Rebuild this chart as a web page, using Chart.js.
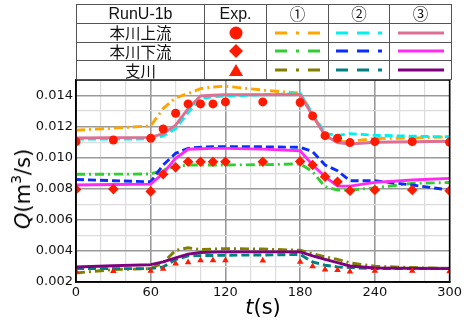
<!DOCTYPE html>
<html><head><meta charset="utf-8">
<script src="https://cdn.jsdelivr.net/npm/chart.js@4/dist/chart.umd.min.js"></script>
<style>
html,body{margin:0;padding:0;background:#fff;}
#wrap{position:relative;width:465px;height:320px;overflow:hidden;}
canvas{position:absolute;left:0;top:0;}
#legend{position:absolute;left:76px;top:4px;border-collapse:collapse;table-layout:fixed;background:#fff;}
#legend td{border:1px solid #555;height:17.8px;padding:0;text-align:center;vertical-align:middle;line-height:1;font-family:"Liberation Sans","Noto Sans CJK JP",sans-serif;font-size:16px;color:#111;}
#legend td.cjk{font-family:"Noto Sans CJK JP",sans-serif;font-size:15.5px;}
#legend svg{display:block;margin:0 auto;}
#ytitle{position:absolute;left:23px;top:189px;transform:translate(-50%,-50%) rotate(-90deg);font-family:"DejaVu Sans",sans-serif;font-size:21px;white-space:nowrap;color:#000;}
#xtitle{position:absolute;left:263px;top:307px;transform:translate(-50%,-50%);font-family:"DejaVu Sans",sans-serif;font-size:21px;white-space:nowrap;color:#000;}
sup{font-size:14px;vertical-align:9px;line-height:0;}
</style></head>
<body>
<div id="wrap">
<canvas id="c" width="465" height="320"></canvas>
<table id="legend">
<colgroup><col style="width:128px"><col style="width:62px"><col style="width:62px"><col style="width:61px"><col style="width:62px"></colgroup>
<tr><td>RunU-1b</td><td>Exp.</td><td class="cjk">①</td><td class="cjk">②</td><td class="cjk">③</td></tr>
<tr><td class="cjk">本川上流</td>
<td><svg width="16" height="16"><circle cx="8" cy="8" r="6.5" fill="#ff1a00"/></svg></td>
<td><svg width="46" height="6"><line x1="0" y1="3" x2="46" y2="3" stroke="#ffa500" stroke-width="3" stroke-dasharray="12 9 3 9"/></svg></td>
<td><svg width="46" height="6"><line x1="0" y1="3" x2="46" y2="3" stroke="#00f0f0" stroke-width="3" stroke-dasharray="12 9"/></svg></td>
<td><svg width="46" height="6"><line x1="0" y1="3" x2="46" y2="3" stroke="#db7093" stroke-width="3"/></svg></td></tr>
<tr><td class="cjk">本川下流</td>
<td><svg width="16" height="16"><polygon points="8,1 15,8 8,15 1,8" fill="#ff1a00"/></svg></td>
<td><svg width="46" height="6"><line x1="0" y1="3" x2="46" y2="3" stroke="#32cd32" stroke-width="3" stroke-dasharray="12 9 3 9"/></svg></td>
<td><svg width="46" height="6"><line x1="0" y1="3" x2="46" y2="3" stroke="#0a2cff" stroke-width="3" stroke-dasharray="12 9"/></svg></td>
<td><svg width="46" height="6"><line x1="0" y1="3" x2="46" y2="3" stroke="#ff2cf0" stroke-width="3"/></svg></td></tr>
<tr><td class="cjk">支川</td>
<td><svg width="16" height="16"><polygon points="8,2 15,14 1,14" fill="#ff1a00"/></svg></td>
<td><svg width="46" height="6"><line x1="0" y1="3" x2="46" y2="3" stroke="#808000" stroke-width="3" stroke-dasharray="12 9 3 9"/></svg></td>
<td><svg width="46" height="6"><line x1="0" y1="3" x2="46" y2="3" stroke="#008080" stroke-width="3" stroke-dasharray="12 9"/></svg></td>
<td><svg width="46" height="6"><line x1="0" y1="3" x2="46" y2="3" stroke="#800080" stroke-width="3"/></svg></td></tr>
</table>
<div id="ytitle"><i>Q</i>(m<sup>3</sup>/s)</div>
<div id="xtitle"><i>t</i>(s)</div>
</div>
<script>
const times = [0,30,60,70,80,90,100,110,120,150,180,190,200,210,220,240,270,300];

const expMainUp   = [0.01103,0.01114,0.01125,0.01185,0.01286,0.01346,0.01346,0.01346,0.01359,0.01359,0.01355,0.01269,0.01142,0.01125,0.01097,0.01103,0.01103,0.01100];
const expMainDown = [0.00796,0.00798,0.00783,0.00893,0.00938,0.00974,0.00974,0.00974,0.00974,0.00974,0.00976,0.00953,0.00878,0.00845,0.00787,0.00792,0.00792,0.00787];
const expBranch   = [0.00269,0.00270,0.00271,0.00284,0.00319,0.00327,0.00340,0.00340,0.00340,0.00338,0.00329,0.00301,0.00280,0.00277,0.00267,0.00271,0.00271,0.00269];

const case1MainUp   = [0.01177,0.01190,0.01205,0.01316,0.01385,0.01413,0.01445,0.01455,0.01460,0.01435,0.01415,0.01280,0.01140,0.01100,0.01106,0.01123,0.01127,0.01134];
const case2MainUp   = [0.01119,0.01120,0.01121,0.01140,0.01187,0.01290,0.01381,0.01392,0.01398,0.01405,0.01413,0.01284,0.01155,0.01144,0.01155,0.01144,0.01138,0.01134];
const case3MainUp   = [0.01127,0.01129,0.01131,0.01155,0.01209,0.01316,0.01398,0.01402,0.01406,0.01406,0.01406,0.01270,0.01144,0.01097,0.01088,0.01099,0.01103,0.01106];

const case1MainDown = [0.00893,0.00894,0.00895,0.00921,0.00942,0.00953,0.00953,0.00953,0.00953,0.00955,0.00960,0.00910,0.00813,0.00792,0.00792,0.00806,0.00835,0.00840];
const case2MainDown = [0.00860,0.00852,0.00845,0.00953,0.01028,0.01060,0.01068,0.01070,0.01071,0.01070,0.01067,0.01039,0.00953,0.00916,0.00852,0.00852,0.00824,0.00792];
const case3MainDown = [0.00824,0.00827,0.00830,0.00900,0.00996,0.01054,0.01058,0.01060,0.01060,0.01055,0.01045,0.00953,0.00878,0.00817,0.00817,0.00841,0.00856,0.00867];

const case1Branch   = [0.00258,0.00280,0.00286,0.00325,0.00404,0.00420,0.00409,0.00412,0.00415,0.00412,0.00404,0.00383,0.00361,0.00346,0.00323,0.00301,0.00293,0.00286];
const case2Branch   = [0.00286,0.00286,0.00286,0.00297,0.00344,0.00368,0.00370,0.00371,0.00372,0.00374,0.00377,0.00329,0.00308,0.00297,0.00293,0.00286,0.00286,0.00286];
const case3Branch   = [0.00297,0.00305,0.00312,0.00329,0.00355,0.00379,0.00390,0.00392,0.00394,0.00394,0.00394,0.00368,0.00346,0.00325,0.00303,0.00290,0.00288,0.00286];

const xTickMajor = [0,60,120,180,240,300];
const yTickMajor = [0.002,0.004,0.006,0.008,0.010,0.012,0.014];

const pts = arr => arr.map((v,i)=>({x:times[i], y:v}));
const red = '#ff1a00';
const DASHDOT = [9,4,2,4], DASH = [8,4];

function lineDs(data,color,dash){
  return {type:'line', data:pts(data), borderColor:color, backgroundColor:color, borderWidth:2.9,
          borderDash:dash, pointRadius:0, tension:0, fill:false};
}
function expDs(data,style,r){
  return {type:'scatter', data:pts(data), pointStyle:style, pointRadius:r, pointBackgroundColor:red,
          pointBorderColor:red, pointBorderWidth:0, showLine:false};
}

const frame = {
  id:'frame',
  afterDraw(chart){
    const a = chart.chartArea, ctx = chart.ctx;
    ctx.save(); ctx.strokeStyle='#000'; ctx.lineWidth=1.5;
    ctx.strokeRect(a.left, a.top, a.right-a.left, a.bottom-a.top);
    ctx.restore();
  }
};

new Chart(document.getElementById('c'), {
  data:{datasets:[
    expDs(expMainUp,'circle',4.5),
    expDs(expMainDown,'rectRot',5.3),
    expDs(expBranch,'triangle',3.8),
    lineDs(case3MainUp,'#db7093',[]),
    lineDs(case2MainUp,'#00f0f0',DASH),
    lineDs(case1MainUp,'#ffa500',DASHDOT),
    lineDs(case3MainDown,'#ff2cf0',[]),
    lineDs(case2MainDown,'#0a2cff',DASH),
    lineDs(case1MainDown,'#32cd32',DASHDOT),
    lineDs(case3Branch,'#800080',[]),
    lineDs(case2Branch,'#008080',DASH),
    lineDs(case1Branch,'#808000',DASHDOT)
  ]},
  options:{
    responsive:false, animation:false,
    layout:{padding:{left:0,right:14,top:80,bottom:0}},
    plugins:{legend:{display:false}, tooltip:{enabled:false}},
    scales:{
      x:{type:'linear', min:0, max:300,
        afterFit(s){ s.height = 38; },
        ticks:{stepSize:20, autoSkip:false, maxRotation:0, padding:3,
          color:'#111', font:{family:'DejaVu Sans', size:13},
          callback:v => xTickMajor.includes(v) ? String(v) : ''},
        grid:{tickLength:0, color:c => (c.tick && xTickMajor.includes(c.tick.value)) ? '#9a9a9a' : '#dcdcdc',
          lineWidth:c => (c.tick && xTickMajor.includes(c.tick.value)) ? 1.6 : 1.2},
        border:{color:'#000', width:1.5}
      },
      y:{type:'linear', min:0.002, max:0.015,
        afterFit(s){ s.width = 76; },
        ticks:{stepSize:0.001, autoSkip:false, padding:3,
          color:'#111', font:{family:'DejaVu Sans', size:13},
          callback:v => yTickMajor.some(t=>Math.abs(t-v)<1e-7) ? v.toFixed(3) : ''},
        grid:{tickLength:0, color:c => (c.tick && yTickMajor.some(t=>Math.abs(t-c.tick.value)<1e-7)) ? '#9a9a9a' : '#dcdcdc',
          lineWidth:c => (c.tick && yTickMajor.some(t=>Math.abs(t-c.tick.value)<1e-7)) ? 1.6 : 1.2},
        border:{color:'#000', width:1.5}
      }
    }
  },
  plugins:[frame]
});
</script>
</body></html>
